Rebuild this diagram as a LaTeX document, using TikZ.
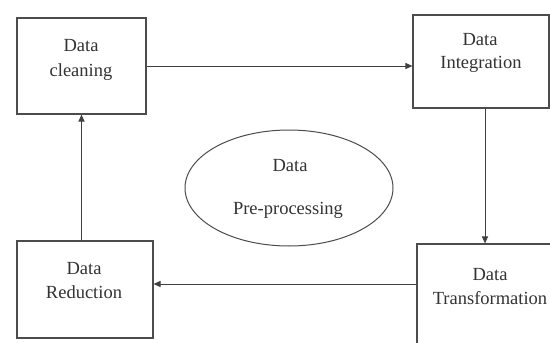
\documentclass[tikz,border=0pt]{standalone}
\usepackage{fontspec}
\setmainfont{Liberation Serif}
\usetikzlibrary{shapes.geometric,arrows.meta}
\begin{document}
\begin{tikzpicture}[x=1pt,y=-1pt,
  box/.style={draw=black!70, line width=1.1pt, rectangle, inner sep=0pt},
  oval/.style={draw=black!70, line width=1pt, ellipse, inner sep=0pt},
  lbl/.style={anchor=base, inner sep=0pt, font=\fontsize{18.5}{24}\selectfont, text=black!80},
  conn/.style={draw=black!75, line width=1pt, -{Triangle[length=7pt,width=6pt]}}]
\clip (0,0) rectangle (550,343);
\fill[white] (0,0) rectangle (550,343);
% boxes
\node[box, minimum width=129pt, minimum height=96pt] (clean) at (81.5,66) {};
\node[box, minimum width=136pt, minimum height=93pt] (integ) at (481,61.5) {};
\node[box, minimum width=136pt, minimum height=97pt] (red) at (85,289.5) {};
\node[box, minimum width=146pt, minimum height=106pt] (trans) at (490,297) {};
\node[oval, minimum width=208pt, minimum height=116pt] (pre) at (289,188) {};
% labels
\node[lbl] (c1) at (81,51) {Data};
\node[lbl] (c2) at (81,76) {cleaning};
\node[lbl] (i1) at (480,45) {Data};
\node[lbl] (i2) at (481,68) {Integration};
\node[lbl] (r1) at (84,274) {Data};
\node[lbl] (r2) at (84,298) {Reduction};
\node[lbl] (t1) at (490,280) {Data};
\node[lbl] (t2) at (490,304) {Transformation};
\node[lbl] (p1) at (290,171) {Data};
\node[lbl] (p2) at (288,214) {Pre-processing};
% connectors
\draw[conn] (clean.east) -- (clean.east -| integ.west);
\coordinate (is) at ([xshift=4pt]integ.south);
\draw[conn] (is) -- (is |- trans.north);
\coordinate (tw) at ([yshift=13pt]trans.west);
\draw[conn] (tw) -- (tw -| red.east);
\draw[conn] (clean.south |- red.north) -- (clean.south);
\end{tikzpicture}
\end{document}
